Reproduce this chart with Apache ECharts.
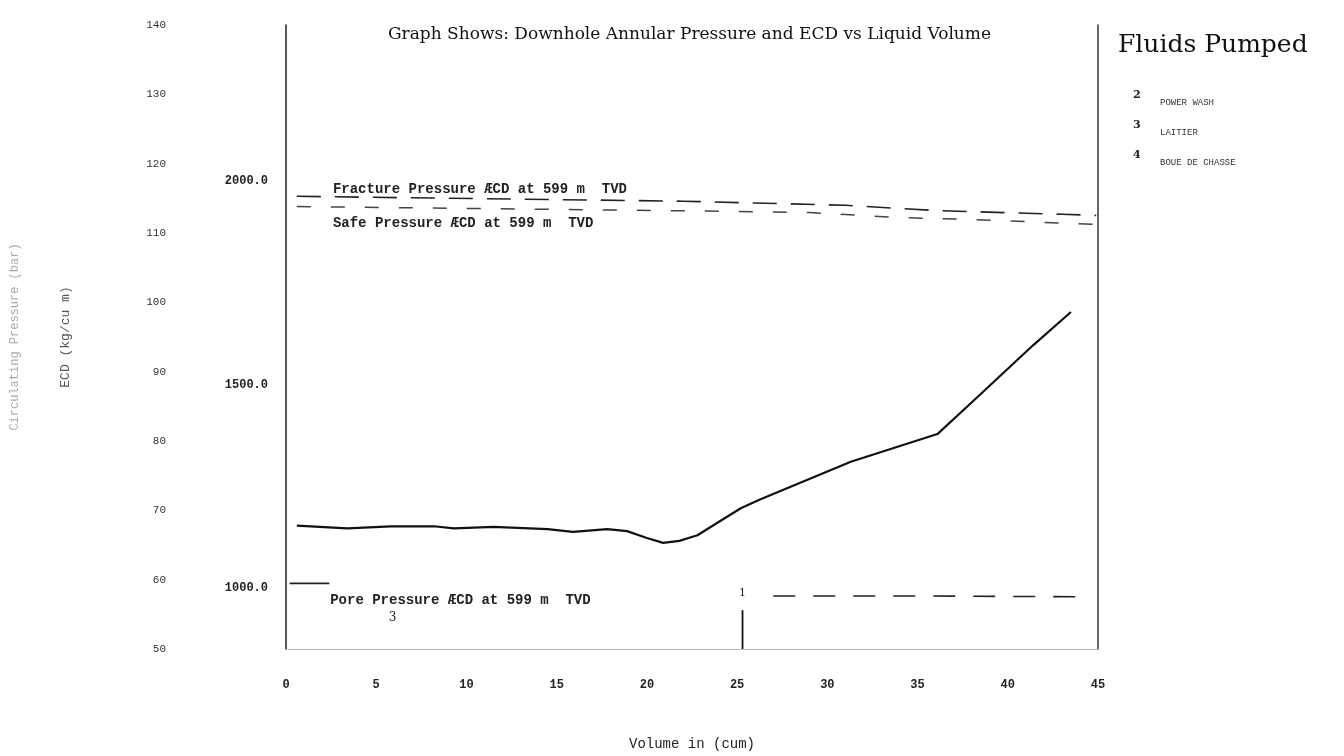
<!DOCTYPE html>
<html>
<head>
<meta charset="utf-8">
<script src="https://cdn.jsdelivr.net/npm/echarts@6/dist/echarts.min.js"></script>
<style>
html,body{margin:0;padding:0;background:#fff;}
#chart{width:1344px;height:756px;}
</style>
</head>
<body>
<div id="chart"></div>
<script>
// ---- data ----
const titleText = "Graph Shows: Downhole Annular Pressure and ECD vs Liquid Volume";
const volume = [0.6, 3.4, 5.8, 8.2, 9.3, 11.5, 14.5, 15.9, 17.8, 18.9, 20.0, 20.9, 21.8, 22.8, 25.2, 26.3, 28.9, 31.3, 36.1, 38.1, 41.4, 43.5];
const pressureBar = [67.8, 67.4, 67.7, 67.7, 67.4, 67.6, 67.3, 66.9, 67.3, 67.0, 66.0, 65.3, 65.6, 66.4, 70.3, 71.6, 74.4, 77.0, 81.0, 85.8, 93.8, 98.6];
const fractureVol = [0.6, 22, 31, 36, 43, 44.9];
const fractureECD = [1962, 1950, 1940, 1927, 1918, 1915];
const safeVol = [0.6, 25, 29, 34, 38, 44.9];
const safeECD = [1937, 1925, 1922, 1910, 1905, 1893];
const poreLeadVol = [0.2, 2.4];
const poreLeadECD = [1012, 1012];
const poreVol = [27, 35, 44.6];
const poreECD = [981, 981, 979];
const stageVol = [25.3, 25.3];
const stageBar = [50, 55.6];
const xTicks = [0, 5, 10, 15, 20, 25, 30, 35, 40, 45];
const pressureTicks = [50, 60, 70, 80, 90, 100, 110, 120, 130, 140];
const ecdTicks = [1000, 1500, 2000];
const fluidNums = ["2", "3", "4"];
const fluidNames = ["POWER WASH", "LAITIER", "BOUE DE CHASSE"];
const tvd = 599;

// ECD axis is the pressure axis rescaled: P(bar) = ECD * g * TVD / 1e5
const k = 9.81 * tvd / 1e5;
const pMin = pressureTicks[0], pMax = pressureTicks[pressureTicks.length - 1];

const pair = (xs, ys) => xs.map((x, i) => [x, ys[i]]);
const mono = "'Liberation Mono', 'DejaVu Sans Mono', monospace";
const serif = "'DejaVu Serif', 'Liberation Serif', serif";

const chart = echarts.init(document.getElementById('chart'));

const legendGraphics = [];
fluidNums.forEach((n, i) => {
  legendGraphics.push({type: 'text', left: 1133, top: 90 + i * 30,
    style: {text: n, font: "bold 11px " + serif, fill: '#222'}});
  legendGraphics.push({type: 'text', left: 1160, top: 98 + i * 30,
    style: {text: fluidNames[i], font: "9px " + mono, fill: '#333'}});
});

const noteLabel = (txt) => ({
  show: true, position: 'right', distance: 0, formatter: txt,
  fontFamily: mono, fontWeight: 'bold', fontSize: 14, color: '#222'
});

chart.setOption({
  animation: false,
  backgroundColor: '#fff',
  title: [
    {text: titleText, left: 383, top: 21,
     textStyle: {fontFamily: serif, fontSize: 17, fontWeight: 'normal', color: '#111'}},
    {text: 'Fluids Pumped', left: 1113, top: 28,
     textStyle: {fontFamily: serif, fontSize: 25, fontWeight: 'normal', color: '#111'}}
  ],
  graphic: legendGraphics,
  grid: {left: 286, right: 246, top: 25, bottom: 105, containLabel: false},
  xAxis: {
    type: 'value', min: 0, max: 45, interval: 5,
    name: 'Volume in (cum)', nameLocation: 'middle', nameGap: 88,
    nameTextStyle: {fontFamily: mono, fontSize: 14, color: '#222'},
    axisLine: {show: true, lineStyle: {color: '#aaa', width: 1, type: 'dotted'}},
    axisTick: {show: false}, splitLine: {show: false},
    axisLabel: {margin: 30, fontFamily: mono, fontSize: 12, fontWeight: 'bold', color: '#222'}
  },
  yAxis: [
    {
      type: 'value', min: pMin, max: pMax, interval: 10, position: 'left', offset: 110,
      name: 'Circulating Pressure (bar)', nameLocation: 'middle', nameGap: 155, nameRotate: 90,
      nameTextStyle: {fontFamily: mono, fontSize: 12, color: '#aaa'},
      axisLine: {show: false}, axisTick: {show: false}, splitLine: {show: false},
      axisLabel: {margin: 10, fontFamily: mono, fontSize: 11, color: '#333'}
    },
    {
      type: 'value', min: pMin / k, max: pMax / k, position: 'left', offset: 0,
      name: 'ECD (kg/cu m)', nameLocation: 'middle', nameGap: 214, nameRotate: 90,
      nameTextStyle: {fontFamily: mono, fontSize: 13, color: '#555'},
      axisLine: {show: true, onZero: false, lineStyle: {color: '#222', width: 1.5}},
      axisTick: {show: false}, splitLine: {show: false},
      axisLabel: {customValues: ecdTicks, margin: 18, fontFamily: mono, fontSize: 12, fontWeight: 'bold', color: '#222',
        formatter: v => Number(v).toFixed(1)}
    },
    {
      type: 'value', min: 0, max: 1, position: 'right',
      axisLine: {show: true, onZero: false, lineStyle: {color: '#333', width: 1.5}},
      axisTick: {show: false}, axisLabel: {show: false}, splitLine: {show: false}
    }
  ],
  series: [
    {
      name: 'Pressure', type: 'line', yAxisIndex: 0, data: pair(volume, pressureBar),
      showSymbol: false, smooth: false, lineStyle: {color: '#111', width: 2.2, join: 'round'}
    },
    {
      name: 'Fracture Pressure', type: 'line', yAxisIndex: 1, data: pair(fractureVol, fractureECD),
      showSymbol: false, lineStyle: {color: '#222', width: 1.6, type: [24, 14]},
      markPoint: {symbol: 'circle', symbolSize: 0, data: [
        {coord: [2.6, 1979], label: noteLabel('Fracture Pressure ÆCD at 599 m  TVD')}
      ]}
    },
    {
      name: 'Safe Pressure', type: 'line', yAxisIndex: 1, data: pair(safeVol, safeECD),
      showSymbol: false, lineStyle: {color: '#444', width: 1.5, type: [14, 20]},
      markPoint: {symbol: 'circle', symbolSize: 0, data: [
        {coord: [2.6, 1896], label: noteLabel('Safe Pressure ÆCD at 599 m  TVD')}
      ]}
    },
    {
      name: 'Pore Pressure', type: 'line', yAxisIndex: 1, data: pair(poreLeadVol, poreLeadECD),
      showSymbol: false, lineStyle: {color: '#222', width: 1.8},
      markPoint: {symbol: 'circle', symbolSize: 0, data: [
        {coord: [2.45, 971], label: noteLabel('Pore Pressure ÆCD at 599 m  TVD')}
      ]}
    },
    {
      name: 'Pore Pressure', type: 'line', yAxisIndex: 1, data: pair(poreVol, poreECD),
      showSymbol: false, lineStyle: {color: '#222', width: 1.6, type: [22, 18]}
    },
    {
      name: 'Stage', type: 'line', yAxisIndex: 0, data: pair(stageVol, stageBar),
      showSymbol: false, lineStyle: {color: '#111', width: 1.8},
      markPoint: {symbol: 'circle', symbolSize: 0, data: [
        {coord: [25.3, 58.1], label: {show: true, position: 'inside', formatter: '1', fontFamily: serif, fontSize: 11, color: '#222'}},
        {coord: [5.9, 54.5], label: {show: true, position: 'inside', formatter: '3', fontFamily: serif, fontSize: 12, color: '#222'}}
      ]}
    }
  ]
});
</script>
</body>
</html>
